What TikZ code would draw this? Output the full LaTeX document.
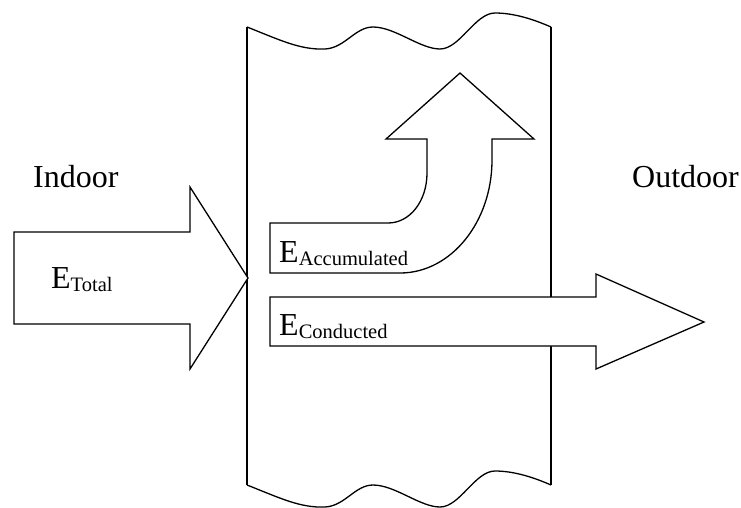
\documentclass[tikz,border=0pt]{standalone}
\usepackage{fontspec}
\setmainfont{Liberation Serif}
\newcommand{\bigtxt}{\fontsize{32}{38}\selectfont}
\newcommand{\Esub}[1]{E\raisebox{-3pt}{\fontsize{20.5}{24}\selectfont #1}}
\begin{document}
\begin{tikzpicture}[x=1pt,y=-1pt,
  outline/.style={draw=black,line width=1.3pt,line join=miter},
  arrowshape/.style={outline,fill=white},
  lbl/.style={anchor=base west,inner sep=0pt,font=\bigtxt}]
\useasboundingbox (0,0) rectangle (741,507);
% wall
\draw[outline] (247,27) .. controls (280,40) and (300,50) .. (325,49)
  .. controls (345,48) and (355,27) .. (373,27)
  .. controls (395,27) and (420,49) .. (440,49)
  .. controls (460,49) and (475,13) .. (495,13)
  .. controls (515,13) and (535,20) .. (551,27);
\draw[outline] (247,485) .. controls (280,498) and (300,508) .. (325,507)
  .. controls (345,506) and (355,485) .. (373,485)
  .. controls (395,485) and (420,507) .. (440,507)
  .. controls (460,507) and (475,471) .. (495,471)
  .. controls (515,471) and (535,478) .. (551,485);
\coordinate (wlt) at (247,27);
\coordinate (wlb) at (247,485);
\coordinate (wrt) at (551,27);
\coordinate (wrb) at (551,485);
\draw[outline] (wlt) -- (wlb);
\draw[outline] (wrt) -- (wrb);
% total arrow
\draw[arrowshape] (14,232) -- (190,232) -- (190,187) -- (248,278) -- (190,369) -- (190,324) -- (14,324) -- cycle;
% accumulated arrow
\draw[arrowshape] (270,223) -- (388,223)
  .. controls (410,223) and (427,201) .. (427,173)
  -- (427,139) -- (386,139) -- (460,73) -- (534,139) -- (492,139) -- (492,160)
  .. controls (492,222) and (451,273) .. (400,273)
  -- (270,273) -- cycle;
% conducted arrow
\draw[arrowshape] (270,297) -- (596,297) -- (596,274) -- (704,322) -- (596,369) -- (596,346) -- (270,346) -- cycle;
% labels
\node[lbl] (indoor) at (33,187) {Indoor};
\node[lbl] (outdoor) at (632,187) {Outdoor};
\node[lbl] (etot) at (51,288) {\Esub{Total}};
\node[lbl] (eacc) at (279,262) {\Esub{Accumulated}};
\node[lbl] (econ) at (279,335) {\Esub{Conducted}};
\end{tikzpicture}
\end{document}
